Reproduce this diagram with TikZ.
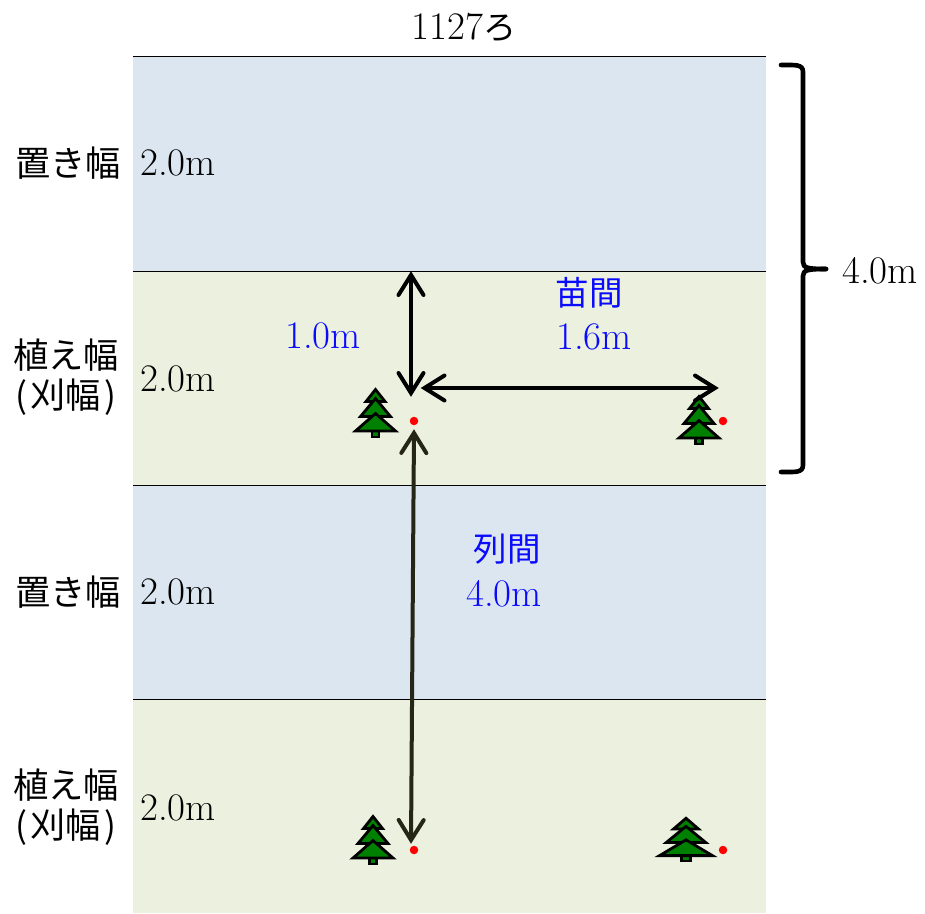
\documentclass[tikz,border=0pt]{standalone}
\usepackage{fontspec}
\setmainfont{Latin Modern Roman}
\newfontfamily\cjk{Noto Sans CJK JP}
\usetikzlibrary{arrows.meta}
\definecolor{bandblue}{HTML}{DCE6F1}
\definecolor{bandgreen}{HTML}{EBF1DE}
\definecolor{treegreen}{HTML}{008000}
\definecolor{txtblue}{HTML}{0A0AFF}
\definecolor{darkarrow}{HTML}{262616}
\pgfdeclarearrow{
  name=OpenVee,
  setup code={
    \pgfarrowssettipend{0pt}
    \pgfarrowssetlineend{-5pt}
    \pgfarrowssetbackend{-24pt}
    \pgfarrowssetvisualbackend{-5pt}
  },
  drawing code={
    \pgfsetdash{}{0pt}
    \pgfsetroundcap
    \pgfsetmiterjoin
    \pgfpathmoveto{\pgfpoint{-24pt}{12.5pt}}
    \pgfpathlineto{\pgfpoint{-4pt}{0pt}}
    \pgfpathlineto{\pgfpoint{-24pt}{-12.5pt}}
    \pgfusepathqstroke
  }
}
\tikzset{
  x=1pt,y=-1pt,
  band/.style={minimum width=633pt,minimum height=214pt,inner sep=0pt,outer sep=0pt,anchor=north west},
  lbl/.style={inner sep=0pt,font=\fontsize{39}{44}\selectfont,align=center},
  jplbl/.style={inner sep=0pt,font=\fontsize{35.3}{40}\selectfont,align=center},
  bluelbl/.style={lbl,text=txtblue},
  bluejp/.style={inner sep=0pt,font=\fontsize{33.5}{40}\selectfont,text=txtblue},
  reddot/.style={circle,fill=red,minimum size=8.5pt,inner sep=0pt},
  sep/.style={draw=black,line width=0.8pt},
  dimarrow/.style={line width=4pt,OpenVee-OpenVee},
  treepart/.style={draw=black,fill=treegreen,line width=2.8pt,line join=miter},
  treeicon/.pic={
    \path[treepart] (-3.5,44)--(3.5,44)--(3.5,50)--(-3.5,50)--cycle;
    \path[treepart] (0,2.5)--(9.5,14.5)--(-9.5,14.5)--cycle;
    \path[treepart] (0,11.5)--(15,29.5)--(-15,29.5)--cycle;
    \path[treepart] (0,26.5)--(20,44)--(-20,44)--cycle;
  }
}
\begin{document}
\begin{tikzpicture}
\useasboundingbox (0,0) rectangle (925,913);
% bands
\node[band,fill=bandblue]  (b1) at (133,56.5) {};
\node[band,fill=bandgreen] (b2) at (133,271) {};
\node[band,fill=bandblue]  (b3) at (133,485) {};
\node[band,fill=bandgreen] (b4) at (133,699) {};
\draw[sep] (b1.north west) -- (b1.north east);
\draw[sep] (b2.north west) -- (b2.north east);
\draw[sep] (b3.north west) -- (b3.north east);
\draw[sep] (b4.north west) -- (b4.north east);
% trees
\pic at (375.5,387) {treeicon};
\pic at (699,394) {treeicon};
\pic at (373,814) {treeicon};
\pic[xscale=1.32,yscale=0.9] at (686,816) {treeicon};
% dots
\node[reddot] (d1) at (414,421) {};
\node[reddot] (d2) at (723,421) {};
\node[reddot] (d3) at (414,850) {};
\node[reddot] (d4) at (723,850) {};
% arrows
\coordinate (va) at (411,271);
\coordinate (vb) at (411,397);
\coordinate (ha) at (420.5,388);
\coordinate (hb) at (719,388);
\coordinate (la) at (414,429);
\coordinate (lb) at (411,844);
\draw[dimarrow] (va) -- (vb);
\draw[dimarrow] (ha) -- (hb);
\draw[dimarrow,draw=darkarrow] (la) -- (lb);
% brace
\coordinate (bt) at (781,65);
\coordinate (bm) at (826,269);
\coordinate (bb) at (781,472);
\draw[line width=4.6pt,line cap=round] (bt) .. controls (795,65) and (803,64) .. (803,72) -- (803,262) .. controls (803,268) and (808,269) .. (bm);
\draw[line width=4.6pt,line cap=round] (bb) .. controls (795,472) and (803,473) .. (803,465) -- (803,276) .. controls (803,270) and (808,269) .. (bm);
% labels
\node[lbl] (title) at (464,27) {1127{\fontsize{33}{40}\selectfont\cjk ろ}};
\node[jplbl] (l1) at (68,163) {\cjk 置き幅};
\node[lbl] (w1) at (178,163) {2.0m};
\node[jplbl] (l2a) at (66,355) {\cjk 植え幅};
\node[jplbl] (l2b) at (66,397) {\cjk (\kern3pt 刈幅\kern3pt )};
\node[lbl] (w2) at (178,379) {2.0m};
\node[jplbl] (l3) at (68,592) {\cjk 置き幅};
\node[lbl] (w3) at (178,592) {2.0m};
\node[jplbl] (l4a) at (66,785) {\cjk 植え幅};
\node[jplbl] (l4b) at (66,827) {\cjk (\kern3pt 刈幅\kern3pt )};
\node[lbl] (w4) at (178,808) {2.0m};
\node[lbl] (tot) at (880,271) {4.0m};
\node[bluelbl] (v1) at (323,336) {1.0m};
\node[bluejp] (t2) at (589,293) {\cjk 苗間};
\node[bluelbl] (v2) at (594,337) {1.6m};
\node[bluejp] (t3) at (507,549) {\cjk 列間};
\node[bluelbl] (v3) at (504,594) {4.0m};
\end{tikzpicture}
\end{document}
